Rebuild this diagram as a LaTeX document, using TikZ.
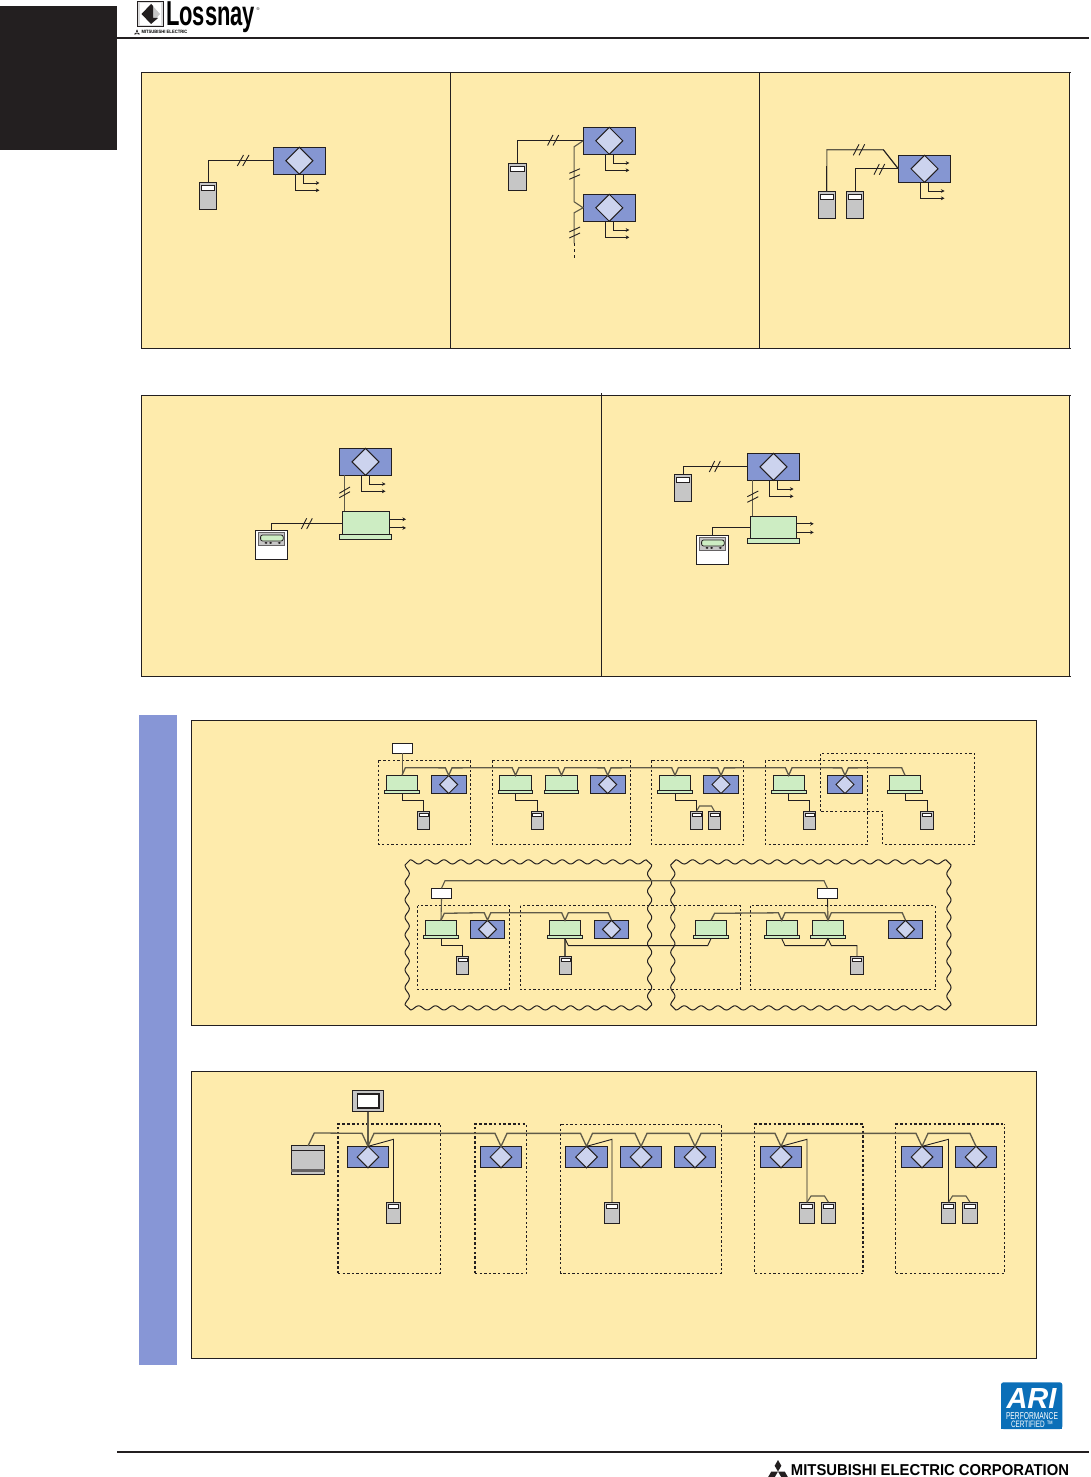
\documentclass[tikz,border=0pt]{standalone}
\usepackage{fontspec}
\setmainfont{Liberation Sans}
\usetikzlibrary{shapes.geometric,arrows.meta,calc}
\definecolor{ink}{HTML}{231F20}
\definecolor{bgy}{HTML}{FEEBAC}
\definecolor{ublue}{HTML}{8596D2}
\definecolor{band}{HTML}{8796D6}
\definecolor{dlight}{HTML}{CCD3EE}
\definecolor{ugreen}{HTML}{CDEDC3}
\definecolor{ugray}{HTML}{C6C6C6}
\definecolor{softline}{HTML}{5F5A48}
\definecolor{ariblue}{HTML}{0B6FB8}
\tikzset{
  panel/.style={draw=ink,fill=bgy,line width=1pt},
  boxbase/.style={draw=ink,line width=1pt,inner sep=0pt,outer sep=0pt},
  lunit/.style={boxbase,fill=ublue},
  ldiam/.style={diamond,aspect=1,draw=ink,line width=1pt,fill=dlight,inner sep=0pt,outer sep=0pt},
  gbody/.style={boxbase,fill=ugreen},
  remotebox/.style={boxbase,fill=ugray},
  dispbox/.style={boxbase,fill=white},
  whitebox/.style={boxbase,fill=white},
  wire/.style={draw=ink,line width=.9pt},
  softwire/.style={draw=softline,line width=1.1pt},
  buswire/.style={draw=softline,line width=1.3pt},
  arrowwire/.style={draw=ink,line width=.9pt,-{Stealth[length=3.6pt,width=3.8pt]}},
  slashmark/.style={draw=ink,line width=.9pt},
  dashedzone/.style={draw=ink,line width=.85pt,dash pattern=on 2.3pt off 2.3pt},
  heavyzone/.style={draw=ink,line width=1.4pt,dash pattern=on 2.6pt off 2.2pt},
  wavy/.style={draw=ink,line width=1pt,line join=round},
}
% scalloped box with outward peaks at the corners
\newcommand{\wavybox}[4]{%
  \pgfmathtruncatemacro{\nx}{round((#3-#1-6)/17.3)}
  \pgfmathtruncatemacro{\ny}{round((#4-#2-6)/17.3)}
  \pgfmathtruncatemacro{\sx}{16*\nx+1}
  \pgfmathtruncatemacro{\sy}{16*\ny+1}
  \draw[wavy]
    plot[domain=0:1,samples=\sx] ({#1+3+\x*(#3-#1-6)},{#2-2.1*cos(360*\nx*\x)})
    -- plot[domain=0:1,samples=\sy] ({#3+2.1*cos(360*\ny*\x)},{#2+3+\x*(#4-#2-6)})
    -- plot[domain=0:1,samples=\sx] ({#3-3-\x*(#3-#1-6)},{#4+2.1*cos(360*\nx*\x)})
    -- plot[domain=0:1,samples=\sy] ({#1-2.1*cos(360*\ny*\x)},{#4-3-\x*(#4-#2-6)})
    -- cycle;}
% blue Lossnay unit
\newcommand{\blu}[6]{% name cx cy w h diam
  \node[lunit,minimum width=#4pt,minimum height=#5pt] (#1) at (#2,#3) {};
  \node[ldiam,minimum width=#6pt,minimum height=#6pt] (#1d) at (#2,#3) {};}
% green unit: name cx top bodyw bodyh basew baseh
\newcommand{\grn}[7]{%
  \node[gbody,minimum width=#4pt,minimum height=#5pt] (#1) at (#2,{#3+#5/2}) {};
  \node[gbody,minimum width=#6pt,minimum height=#7pt] (#1b) at (#2,{#3+#5+#7/2}) {};
  \coordinate (#1s) at (#2,{#3+#5+#7});}
% remote: name cx top w h dispw disph offset
\newcommand{\rem}[8]{%
  \node[remotebox,minimum width=#4pt,minimum height=#5pt] (#1) at (#2,{#3+#5/2}) {};
  \node[dispbox,minimum width=#6pt,minimum height=#7pt] (#1d) at (#2,{#3+#8+#7/2}) {};}
\newcommand{\smrem}[3]{\rem{#1}{#2}{#3}{12.4}{18.4}{9}{3.4}{2}}
\newcommand{\mdrem}[3]{\rem{#1}{#2}{#3}{14.4}{21}{10.3}{4.3}{2}}
\newcommand{\bgrem}[3]{\rem{#1}{#2}{#3}{17.6}{27.3}{13.4}{5}{3}}
\newcommand{\bigblu}[3]{\blu{#1}{#2}{#3}{52.4}{27}{27}}
\newcommand{\smblu}[3]{\blu{#1}{#2}{#3}{34.7}{18.3}{18}}
\newcommand{\mdblu}[3]{\blu{#1}{#2}{#3}{41.4}{21.3}{21.6}}
\newcommand{\smgrn}[3]{\grn{#1}{#2}{#3}{31.4}{15}{34.7}{3.3}}
% duct arrows under a big blue unit
\newcommand{\ductarrows}[1]{%
  \draw[arrowwire] ($(#1.south)+(-4,0)$) -- ++(0,16) -- ++(24,0);
  \draw[arrowwire] ($(#1.south)+(4,0)$) -- ++(0,8.7) -- ++(16,0);}
\newcommand{\greenarrows}[1]{%
  \draw[arrowwire] ($(#1.east)+(0,-3.5)$) -- ++(17,0);
  \draw[arrowwire] ($(#1.east)+(0,5.1)$) -- ++(17,0);}
% V tap on a bus
\newcommand{\tap}[1]{-- ($(#1.north)+(-3.3,-7.5)$) -- (#1.north) -- ($(#1.north)+(3.3,-7.5)$)}
\newcommand{\bigtap}[1]{-- ($(#1.north)+(-6,-13)$) -- (#1.north) -- ($(#1.north)+(6,-13)$)}
% controller: name left top
\newcommand{\ctrl}[3]{%
  \node[whitebox,minimum width=32.4pt,minimum height=29.2pt] (#1) at ({#2+16.2},{#3+14.6}) {};
  \node[draw=ink!70,line width=1pt,fill=ugray,inner sep=0pt,minimum width=26.6pt,minimum height=12.7pt] (#1k) at ({#2+16.2},{#3+8.7}) {};
  \node[draw=ink,line width=.8pt,fill=ugreen,rounded corners=2pt,inner sep=0pt,minimum width=22.6pt,minimum height=6pt] (#1s) at ({#2+16.6},{#3+7.7}) {};
  \foreach \bx in {10.7,15.3,24}{\fill[ink] ({#2+\bx},{#3+12.6}) ellipse (1.6pt and 1pt);}
}
% Mitsubishi mark
\newcommand{\mitsu}[3]{%
  \fill[ink] (#1,#2) -- ++({-.29*#3},{-.5*#3}) -- ++({.29*#3},{-.5*#3}) -- ++({.29*#3},{.5*#3}) -- cycle;
  \fill[ink] (#1,#2) -- ++({.58*#3},0) -- ++({.29*#3},{.5*#3}) -- ++({-.58*#3},0) -- cycle;
  \fill[ink] (#1,#2) -- ++({-.58*#3},0) -- ++({-.29*#3},{.5*#3}) -- ++({.58*#3},0) -- cycle;}
\begin{document}
\begin{tikzpicture}[x=1pt,y=-1pt]
\useasboundingbox (0,0) rectangle (1090,1477);
\fill[white] (0,0) rectangle (1090,1477);
% page furniture
\fill[ink] (0,6) rectangle (117,150);
\draw[ink,line width=2pt] (117,38) -- (1089,38);
\draw[ink,line width=2pt] (117,1451.8) -- (1089,1451.8);
% Lossnay logo
\fill[ink] (137.3,.7) rectangle (164,27.3);
\fill[ugray!60] (138.3,1.7) rectangle (163,26.3);
\fill[white] (140,3.3) rectangle (161.3,24.7);
\fill[ink] (141.5,14) -- (151,4) -- (151,24) -- cycle;
\fill[ugray] (151,10) -- (151,18) -- (158,18) -- (151,24) -- (160,14) -- (151,4) -- cycle;
\fill[ink] (151,4) -- (153,6) -- (153,18) -- (158,18) -- (151,24) -- cycle;
\node[inner sep=0pt,outer sep=0pt] (logotext) at (210.5,17.5) {\resizebox*{89pt}{31pt}{\bfseries Lossnay}};
\node[inner sep=0pt,outer sep=0pt] (logoreg) at (258,9.5) {\fontsize{4}{4}\selectfont ®};
\mitsu{137}{32.8}{3.3}
\node[inner sep=0pt,outer sep=0pt] (logomit) at (164.5,32.3) {\resizebox{46pt}{3.3pt}{\bfseries MITSUBISHI ELECTRIC}};
% footer
\mitsu{778}{1471.5}{11.5}
\node[inner sep=0pt,outer sep=0pt] (foot) at (930,1470.3) {\resizebox{278pt}{11pt}{\bfseries MITSUBISHI ELECTRIC CORPORATION}};
% ARI logo
\fill[ariblue,rounded corners=2.5pt] (1001,1429) -- (1001,1382.3) -- (1062.3,1382.3) -- (1062.3,1429) -- cycle;
\fill[ariblue] (1001,1420) rectangle (1062.3,1429);
\node[inner sep=0pt,outer sep=0pt,white] (ariname) at (1031.5,1398) {\resizebox{50pt}{20pt}{\bfseries\itshape ARI}};
\node[inner sep=0pt,outer sep=0pt,white] (ariperf) at (1032,1416) {\resizebox{52pt}{7pt}{PERFORMANCE}};
\node[inner sep=0pt,outer sep=0pt,white] (aricert) at (1032,1424) {\resizebox{42pt}{6.5pt}{CERTIFIED ™}};
% panels
\fill[band] (139,715) rectangle (177,1365);
\draw[panel] (141,73) rectangle (1069.5,348.3);
\draw[ink,line width=1pt] (1069,73) -- (1071,73);
\draw[ink,line width=1pt] (1069,348.3) -- (1071,348.3);
\draw[ink,line width=1pt] (450.5,73) -- (450.5,348.3);
\draw[ink,line width=1pt] (759.5,73) -- (759.5,348.3);
\draw[panel] (141,395) rectangle (1069.5,676.5);
\draw[ink,line width=1pt] (1069,395) -- (1071,395);
\draw[ink,line width=1pt] (1069,676.5) -- (1071,676.5);
\draw[ink,line width=1pt] (601.3,393) -- (601.3,676.5);
\draw[panel] (191,720.3) rectangle (1036.5,1025.7);
\draw[panel] (191,1071.3) rectangle (1036.5,1358);

% ---- panel 1, left
\bigblu{a}{299.4}{160.8}
\bgrem{ar}{208}{182.3}
\draw[wire] (ar.north) |- (a.west);
\draw[slashmark] (237.3,166) -- (243.5,155); \draw[slashmark] (242.7,166) -- (249,155);
\ductarrows{a}
% ---- panel 1, middle
\bigblu{b}{609.3}{140.8}
\bigblu{c}{609.3}{207.8}
\bgrem{br}{517.3}{163.3}
\draw[wire] (br.north) |- (b.west);
\draw[softwire] (b.west) -- ++(-9,6) -- ($(c.west)+(-9,-6)$) -- (c.west) -- ++(-9,5) coordinate (cdown) -- ++(0,30.5) coordinate (cend);
\draw[wire,dash pattern=on 3pt off 3pt] (cend) -- ++(0,17.5);
\draw[slashmark] (547.5,145.5) -- (553,135); \draw[slashmark] (553,145.5) -- (558.7,135);
\draw[slashmark] (569.3,173.3) -- (580,168.7); \draw[slashmark] (569.3,179.3) -- (580,174.7);
\draw[slashmark] (569.3,232) -- (580,227); \draw[slashmark] (569.3,238) -- (580,233);
\ductarrows{b}
\ductarrows{c}
% ---- panel 1, right
\bigblu{d}{924.5}{168.8}
\bgrem{dr}{826.8}{191.3}
\bgrem{dq}{855}{191.3}
\draw[softwire] (dr.north) |- (883.3,149.7) -- (d.west);
\draw[wire] (dr.north) -- ++(0,-25);
\draw[wire] (883.3,149.7) -- (d.west);
\draw[wire] (dq.north) |- (d.west);
\draw[slashmark] (853.3,155.3) -- (859,144.3); \draw[slashmark] (859,155.3) -- (864.7,144.3);
\draw[slashmark] (874,174.7) -- (879.3,164); \draw[slashmark] (879.3,174.7) -- (884.7,164);
\ductarrows{d}
% ---- panel 2, left
\bigblu{e}{365.5}{461.8}
\grn{f}{365.5}{511.3}{47}{23}{52.4}{4.7}
\ctrl{fc}{255.3}{530.3}
\draw[softwire] ($(e.south)+(-20.8,0)$) -- ($(f.north)+(-20.8,0)$);
\draw[wire] (f.west |- 0,523.3) -| (fc.north -| 271.3,0);
\draw[slashmark] (339.3,493.3) -- (350,487); \draw[slashmark] (339.3,497.7) -- (350,491.7);
\draw[slashmark] (301.3,529) -- (306.7,518.3); \draw[slashmark] (306.7,529) -- (312.3,518.3);
\ductarrows{e}
\greenarrows{f}
% ---- panel 2, right
\bigblu{g}{773.5}{466.8}
\grn{h}{773.5}{516.3}{46.4}{22}{52.4}{5}
\bgrem{gr}{683}{474.3}
\ctrl{hc}{696.3}{535.3}
\draw[wire] (gr.north) |- (g.west);
\draw[softwire] ($(g.south)+(-20.8,0)$) -- ($(h.north)+(-20.8,0)$);
\draw[wire] (h.west |- 0,527.3) -| (hc.north -| 712.3,0);
\draw[slashmark] (709.3,472) -- (714.7,461); \draw[slashmark] (714.7,472) -- (720.3,461);
\draw[slashmark] (747.3,496.7) -- (758.3,491); \draw[slashmark] (747.3,502.3) -- (758.3,496.7);
\ductarrows{g}
\greenarrows{h}

% ---- panel 3, row 1 zones
\draw[dashedzone] (378.7,760.3) rectangle (470.7,844.3);
\draw[dashedzone] (492.3,760.3) rectangle (630.3,844.3);
\draw[dashedzone] (651.3,760.3) rectangle (743.7,844.3);
\draw[dashedzone] (765.3,760.3) rectangle (867.7,844.3);
\draw[dashedzone] (820.3,811.3) -- (820.3,753.3) -- (974.7,753.3) -- (974.7,844.3) -- (882.7,844.3) -- (882.7,811.3) -- cycle;
% row 1 units
\node[whitebox,minimum width=20.4pt,minimum height=10pt] (t1) at (402.5,748.3) {};
\smgrn{i1}{402}{775.3}
\smblu{i2}{448.7}{784.5}
\smgrn{i3}{515.5}{775.3}
\smgrn{i4}{561.5}{775.3}
\smblu{i5}{607.7}{784.5}
\smgrn{i6}{675}{775.3}
\smblu{i7}{721}{784.5}
\smgrn{i8}{788.7}{775.3}
\smblu{i9}{845}{784.5}
\smgrn{i10}{905}{775.3}
\foreach \u in {i1b,i2,i3b,i4b,i5,i6b,i7,i8b,i9,i10b}{\draw[ink,line width=1.5pt] (\u.south west) -- (\u.south east);}
\smrem{j1}{423.5}{811.3}
\smrem{j3}{537.3}{811.3}
\smrem{j6}{696.5}{811.3}
\smrem{j7}{714.5}{811.3}
\smrem{j8}{809.5}{811.3}
\smrem{j10}{927}{811.3}
\draw[softwire] (t1.south) -- (t1.south |- i1.north);
\draw[buswire] (i1.north) -- ++(3.3,-7.5) \tap{i2} \tap{i3} \tap{i4} \tap{i5} \tap{i6} \tap{i7} \tap{i8} \tap{i9} -- ($(i10.north)+(-3.3,-7.5)$) -- (i10.north);
\draw[wire] (i1s) -- ++(0,6.5) -| (j1.north);
\draw[wire] (i3s) -- ++(0,6.5) -| (j3.north);
\draw[wire] (i6s) -- ++(0,6.5) -| (j6.north);
\draw[softwire] (j6.north) -- ++(3,-5.3) -- ($(j7.north)+(-3,-5.3)$) -- (j7.north);
\draw[wire] (i8s) -- ++(0,6.5) -| (j8.north);
\draw[wire] (i10s) -- ++(0,6.5) -| (j10.north);

% ---- panel 3, row 2 zones
\wavybox{407.2}{861.9}{649.6}{1007.9}
\wavybox{672.8}{861.9}{948.9}{1007.9}
\draw[dashedzone] (417.7,905.7) rectangle (509.3,989.3);
\draw[dashedzone] (520.3,905.7) rectangle (740.3,989.3);
\draw[dashedzone] (750.3,905.7) rectangle (935.3,989.3);
% row 2 units
\node[whitebox,minimum width=20.4pt,minimum height=10.4pt] (t2) at (441.5,893.5) {};
\node[whitebox,minimum width=20.4pt,minimum height=10.4pt] (t3) at (827.5,893.5) {};
\smgrn{k1}{441}{920.3}
\smblu{k2}{487.5}{929.3}
\smgrn{k3}{565}{920.3}
\smblu{k4}{611.5}{929.3}
\smgrn{k5}{711}{920.3}
\smgrn{k6}{781.7}{920.3}
\smgrn{k7}{828}{920.3}
\smblu{k8}{905.5}{929.3}
\smrem{m1}{462.5}{956.3}
\smrem{m3}{565.5}{956.3}
\smrem{m7}{857}{956.3}
\draw[softwire] (t2.north) -- ++(3.5,-7.6) -- ($(t3.north)+(-3.5,-7.6)$) -- (t3.north);
\draw[softwire] (t2.south) -- (k1.north);
\draw[wire] (t3.south) -- (k7.north);
\draw[buswire] (k1.north) -- ++(3.3,-7) \tap{k2} \tap{k3} -- ($(k4.north)+(-3.3,-7.5)$) -- (k4.north);
\draw[buswire] (k5.north) -- ++(3.6,-7) \tap{k6} \tap{k7} -- ($(k8.north)+(-3.3,-7.5)$) -- (k8.north);
\draw[wire] (k1s) -- ++(0,7) -| (m1.north);
\draw[softwire] (k3s) -- (m3.north -| k3s);
\draw[wire] (k3s) -- ++(3.3,7) -- ($(k5s)+(-3.3,7)$) -- (k5s);
\draw[wire] (k6s) -- ++(3.3,7) -- ($(k7s)+(-3.3,7)$) -- (k7s) -- ++(3.3,7) -| (m7.north);

% ---- panel 4 zones (some sides print heavier)
\draw[dashedzone] (338,1273.3) -- (440.3,1273.3) -- (440.3,1124);
\draw[heavyzone] (338,1273.3) -- (338,1124) -- (440.3,1124);
\draw[dashedzone] (475,1273.3) -- (526.7,1273.3) -- (526.7,1124);
\draw[heavyzone] (475,1273.3) -- (475,1124) -- (526.7,1124);
\draw[dashedzone] (560.7,1124) rectangle (721,1273.3);
\draw[dashedzone] (863,1273.3) -- (754.3,1273.3) -- (754.3,1124);
\draw[heavyzone] (754.3,1124) -- (863,1124) -- (863,1273.3);
\draw[dashedzone] (895.7,1273.3) -- (1004.3,1273.3) -- (1004.3,1124);
\draw[heavyzone] (895.7,1273.3) -- (895.7,1124) -- (1004.3,1124);
% panel 4 units
\node[boxbase,fill=ugray,minimum width=31.4pt,minimum height=20.7pt] (scr) at (368,1101.3) {};
\node[draw=ink,line width=1.6pt,fill=white,inner sep=0pt,minimum width=21.6pt,minimum height=14.4pt] (scri) at (368.3,1101) {};
\node[boxbase,fill=ugray,minimum width=33.4pt,minimum height=28.7pt] (srv) at (308,1160.3) {};
\draw[ink,line width=.9pt] (srv.west |- 0,1150.3) -- (srv.east |- 0,1150.3);
\fill[ink!70] (291.3,1169) rectangle (324.7,1172);
\mdblu{n1}{368}{1157}
\mdblu{n2}{501}{1157}
\mdblu{n3}{586.5}{1157}
\mdblu{n4}{641}{1157}
\mdblu{n5}{695}{1157}
\mdblu{n6}{781}{1157}
\mdblu{n7}{922}{1157}
\mdblu{n8}{976}{1157}
\mdrem{p1}{393.5}{1202.3}
\mdrem{p3}{612}{1202.3}
\mdrem{p6}{807}{1202.3}
\mdrem{p7}{828.5}{1202.3}
\mdrem{p8}{948.5}{1202.3}
\mdrem{p9}{970}{1202.3}
\draw[softwire] (scr.south) -- (n1.north);
\draw[buswire] (srv.north) -- ++(6.3,-13) \bigtap{n1} \bigtap{n2} \bigtap{n3} \bigtap{n4} \bigtap{n5} \bigtap{n6} \bigtap{n7} -- ($(n8.north)+(-6,-13)$) -- (n8.north);
\draw[wire] (n1.north) -- (p1.north |- 0,1139.3) -- (p1.north);
\draw[wire] (n3.north) -- (p3.north |- 0,1139.3) -- (p3.north);
\draw[wire] (n6.north) -- (p6.north |- 0,1139.3) -- (p6.north);
\draw[wire] (n7.north) -- (p8.north |- 0,1139.3) -- (p8.north);
\draw[softwire] (p6.north) -- ++(4,-6.3) -- ($(p7.north)+(-4,-6.3)$) -- (p7.north);
\draw[softwire] (p8.north) -- ++(4,-6.3) -- ($(p9.north)+(-4,-6.3)$) -- (p9.north);
\end{tikzpicture}
\end{document}
